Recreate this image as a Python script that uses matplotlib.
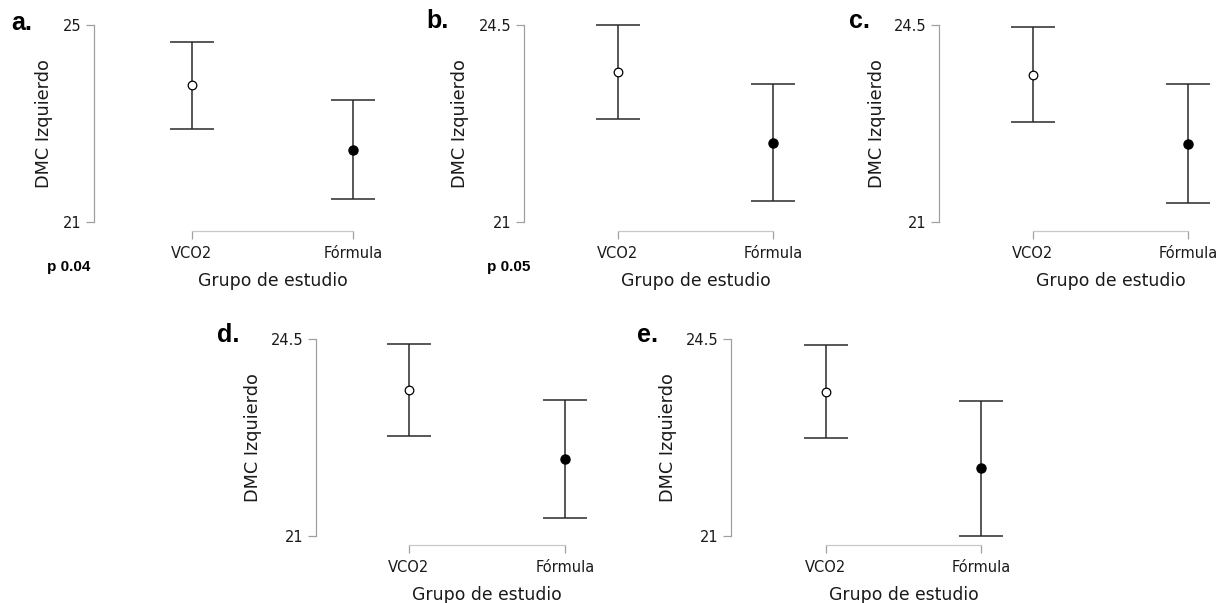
import matplotlib
matplotlib.use("Agg")
import matplotlib.pyplot as plt

# ---------------- data ----------------
panel_letters = ["a.", "b.", "c.", "d.", "e."]
groups = ["VCO2", "Fórmula"]
y_ticks = [(21, 25), (21, 24.5), (21, 24.5), (21, 24.5), (21, 24.5)]

mean_vco2 = [23.78, 23.67, 23.62, 23.59, 23.56]
upper_vco2 = [24.66, 24.50, 24.47, 24.41, 24.40]
lower_vco2 = [22.89, 22.83, 22.78, 22.78, 22.74]

mean_form = [22.46, 22.41, 22.39, 22.37, 22.20]
upper_form = [23.47, 23.45, 23.45, 23.42, 23.40]
lower_form = [21.47, 21.37, 21.34, 21.32, 21.00]

p_labels = ["p 0.04", "p 0.05"]

x_label = "Grupo de estudio"
y_label = "DMC Izquierdo"

# ---------------- layout (pixels) ----------------
W, H = 1224, 603
# spine x, top tick y, bottom tick y, x of VCO2, x of Fórmula
layout = [
    (94, 25, 222, 192, 353),
    (524, 25, 222, 618, 773),
    (939, 25, 222, 1033, 1188),
    (316, 339, 536, 409, 565),
    (731, 339, 536, 826, 981),
]
letter_pos = [(11, 11), (426, 9), (849, 9), (217, 323), (637, 323)]
p_pos = [(69, 267), (509, 267)]
ylabel_x = [44, 460, 877, 253, 668]

AX_GRAY = "#a0a0a0"
BAR_COL = "#2a2a2a"
TXT = "#1a1a1a"

fig = plt.figure(figsize=(W / 100, H / 100), dpi=100)


def fx(px):
    return px / W


def fy(py):
    return 1 - py / H


for i in range(5):
    sx, ty, by, x0, x1 = layout[i]
    ylo, yhi = y_ticks[i]
    right = x1 + 30
    bottom = by + 9
    ax = fig.add_axes([fx(sx), fy(bottom), (right - sx) / W, (bottom - ty) / H])

    s = x1 - x0
    ax.set_xlim((sx - x0) / s, (right - x0) / s)
    scale = (by - ty) / (yhi - ylo)
    ax.set_ylim(ylo - 9 / scale, yhi)

    xs = [0, 1]
    means = [mean_vco2[i], mean_form[i]]
    lows = [lower_vco2[i], lower_form[i]]
    ups = [upper_vco2[i], upper_form[i]]
    for x, m, lo, up, face in zip(xs, means, lows, ups, ["white", "black"]):
        ax.errorbar([x], [m], yerr=[[m - lo], [up - m]], fmt="none",
                    ecolor=BAR_COL, elinewidth=1.1, capsize=16, capthick=1.1,
                    clip_on=False, zorder=2)
        ax.plot([x], [m], "o", ms=6.2 if face == "white" else 6.6,
                mfc=face, mec="black", mew=0.9, clip_on=False, zorder=3)

    # axes styling, JASP-like
    for sp in ["top", "right"]:
        ax.spines[sp].set_visible(False)
    ax.spines["left"].set_bounds(ylo, yhi)
    ax.spines["bottom"].set_bounds(0, 1)
    ax.spines["left"].set_color(AX_GRAY)
    ax.spines["bottom"].set_color("#c8c8c8")
    ax.spines["left"].set_linewidth(0.9)
    ax.spines["bottom"].set_linewidth(0.9)
    ax.set_yticks([ylo, yhi])
    ax.set_yticklabels([f"{ylo:g}", f"{yhi:g}"])
    ax.set_xticks(xs)
    ax.set_xticklabels(groups)
    ax.tick_params(axis="y", length=6, width=0.9, color=AX_GRAY, pad=3,
                   labelsize=10.5, labelcolor=TXT)
    ax.tick_params(axis="x", length=6, width=0.9, color=AX_GRAY, pad=5,
                   labelsize=10.5, labelcolor=TXT)
    ax.patch.set_visible(False)

    # x label centred under the bracket, not the axes box
    ax.set_xlabel(x_label, fontsize=12.4, color=TXT, labelpad=8)
    ax.xaxis.label.set_x(((x0 + x1) / 2 - sx) / (right - sx))
    fig.text(fx(ylabel_x[i]), fy((ty + by) / 2), y_label, rotation=90,
             ha="center", va="center", fontsize=12.7, color=TXT)

    lx, ly = letter_pos[i]
    fig.text(fx(lx), fy(ly), panel_letters[i], ha="left", va="top",
             fontsize=18, fontweight="bold", family="Liberation Sans")

for lab, (px, py) in zip(p_labels, p_pos):
    fig.text(fx(px), fy(py), lab, ha="center", va="center", fontsize=11,
             fontweight="bold", family="Liberation Sans")

fig.savefig("out.png", dpi=100)
